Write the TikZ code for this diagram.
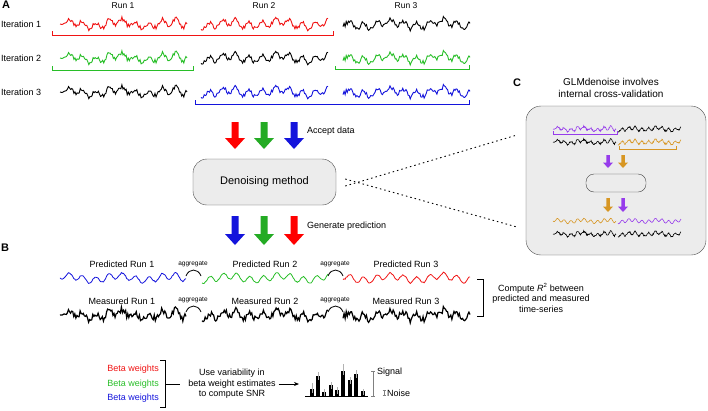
\documentclass[tikz,border=0pt]{standalone}
\usepackage{fontspec}
\setmainfont{Liberation Sans}
\usepackage{tikz}
\usetikzlibrary{arrows.meta}

\definecolor{runred}{RGB}{240,20,20}
\definecolor{rungreen}{RGB}{40,190,40}
\definecolor{runblue}{RGB}{20,20,220}
\definecolor{cvpurple}{RGB}{150,60,235}
\definecolor{cvorange}{RGB}{215,150,35}
\definecolor{boxgrey}{RGB}{236,236,236}

\newcommand{\noisetrace}[7]{%
  \pgfmathsetseed{#5}
  \draw[#4] plot[domain=0:#3, samples=120, variable=\t]
    ({#1+#6*\t},{#2+#6*(3.2*sin(\t*27+#5*35)+2.2*sin(\t*7+#5*20)+#7*rand)});
}
\newcommand{\fatarrow}[5]{%
  \fill[#4] ({#1-3.5*#5},#2) -- ({#1+3.5*#5},#2) -- ({#1+3.5*#5},{#3-11*#5})
    -- ({#1+10*#5},{#3-11*#5}) -- (#1,#3) -- ({#1-10*#5},{#3-11*#5})
    -- ({#1-3.5*#5},{#3-11*#5}) -- cycle;
}

\tikzset{
  lab/.style={inner sep=1pt, font=\fontsize{8.5}{10}\selectfont},
  small/.style={inner sep=1pt, font=\fontsize{6.5}{8}\selectfont},
  panel/.style={inner sep=0pt, font=\fontsize{11}{13}\selectfont\bfseries},
  procbox/.style={draw=gray!60!black, fill=boxgrey, rounded corners=14pt, inner sep=0pt},
  topline/.style={line width=0.9pt},
  predline/.style={line width=0.8pt},
  measline/.style={line width=1.2pt, black},
  bracket/.style={line width=0.8pt}
}

\begin{document}
\begin{tikzpicture}[x=1pt, y=-1pt]
  \useasboundingbox (0,0) rectangle (708,410);

  % panel A
  \node[panel] (pa) at (6,5) {A};
  \node[lab] (run1) at (123,6) {Run 1};
  \node[lab] (run2) at (264,6) {Run 2};
  \node[lab] (run3) at (406,6) {Run 3};
  \node[lab, right, font=\fontsize{9}{10}\selectfont] (it1) at (0,24) {Iteration 1};
  \node[lab, right, font=\fontsize{9}{10}\selectfont] (it2) at (0,58) {Iteration 2};
  \node[lab, right, font=\fontsize{9}{10}\selectfont] (it3) at (0,92) {Iteration 3};

  \noisetrace{60}{24}{127}{topline, runred}{11}{1}{2.2}
  \noisetrace{201}{24}{127}{topline, runred}{22}{1}{2.2}
  \noisetrace{343}{24}{127}{topline, black}{33}{1}{2.2}
  \noisetrace{60}{58}{127}{topline, rungreen}{11}{1}{2.2}
  \noisetrace{201}{58}{127}{topline, black}{22}{1}{2.2}
  \noisetrace{343}{58}{127}{topline, rungreen}{33}{1}{2.2}
  \noisetrace{60}{92}{127}{topline, black}{11}{1}{2.2}
  \noisetrace{201}{92}{127}{topline, runblue}{22}{1}{2.2}
  \noisetrace{343}{92}{127}{topline, runblue}{33}{1}{2.2}

  \draw[bracket, runred] (52,31) -- (52,35) -- (333,35) -- (333,31);
  \draw[bracket, rungreen] (52,66) -- (52,70) -- (193,70) -- (193,66);
  \draw[bracket, rungreen] (335,66) -- (335,69) -- (469,69) -- (469,65);
  \draw[bracket, runblue] (195,100) -- (195,104) -- (469,104) -- (469,100);

  \fatarrow{235}{122}{149}{red}{1}
  \fatarrow{264}{122}{149}{rungreen!90!black}{1}
  \fatarrow{294}{122}{149}{runblue}{1}
  \node[lab, right, font=\fontsize{9}{10}\selectfont] (accept) at (306,131) {Accept data};

  \node[procbox, minimum width=143pt, minimum height=46pt, font=\fontsize{11}{13}\selectfont] (den) at (264.5,182) {Denoising method};

  \fatarrow{235}{216}{245}{runblue}{1}
  \fatarrow{264}{216}{245}{rungreen!90!black}{1}
  \fatarrow{294}{216}{245}{red}{1}
  \node[lab, right, font=\fontsize{9}{10}\selectfont] (gen) at (306,226) {Generate prediction};

  \coordinate (zoomtop) at (517,135);
  \coordinate (zoombot) at (517,227);
  \draw[line width=0.9pt, dash pattern=on 1.5pt off 3pt] ([xshift=9pt, yshift=-4pt]den.east) -- (zoomtop);
  \draw[line width=0.9pt, dash pattern=on 1.5pt off 3pt] ([xshift=9pt, yshift=3pt]den.east) -- (zoombot);

  % panel C
  \node[panel] (pc) at (517,83) {C};
  \node[lab, align=center, font=\fontsize{10}{11.5}\selectfont] (ctitle) at (611,88) {GLMdenoise involves\\internal cross-validation};
  \draw[draw=gray!60!black, fill=boxgrey, rounded corners=15pt] (526,106) rectangle (706,255);
  \noisetrace{553}{129}{126}{line width=0.6pt, cvpurple}{11}{0.5}{2}
  \noisetrace{618}{129}{126}{line width=0.6pt, black}{22}{0.5}{2}
  \noisetrace{553}{142}{126}{line width=0.6pt, black}{11}{0.5}{2}
  \noisetrace{618}{142}{126}{line width=0.6pt, cvorange}{22}{0.5}{2}
  \draw[line width=0.6pt, cvpurple] (553,131) -- (553,134) -- (617,134) -- (617,131);
  \draw[line width=0.6pt, cvorange] (619,146) -- (619,149) -- (676,149) -- (676,146);
  \fatarrow{608}{155}{168}{cvpurple}{0.5}
  \fatarrow{623}{155}{168}{cvorange}{0.5}
  \node[procbox, draw=gray!50!black, rounded corners=8pt, minimum width=60pt, minimum height=18pt] (cvden) at (616,183) {};
  \fatarrow{608}{198}{212}{cvorange}{0.5}
  \fatarrow{623}{198}{212}{cvpurple}{0.5}
  \noisetrace{553}{221}{126}{line width=0.6pt, cvorange}{11}{0.5}{0.5}
  \noisetrace{618}{221}{126}{line width=0.6pt, cvpurple}{22}{0.5}{0.5}
  \noisetrace{553}{234}{126}{line width=0.6pt, black}{11}{0.5}{2}
  \noisetrace{618}{234}{126}{line width=0.6pt, black}{22}{0.5}{2}

  % panel B
  \node[panel] (pb) at (5,248) {B};
  \node[lab, font=\fontsize{9}{10}\selectfont] (pred1) at (122,264) {Predicted Run 1};
  \node[lab, font=\fontsize{9}{10}\selectfont] (pred2) at (265,264) {Predicted Run 2};
  \node[lab, font=\fontsize{9}{10}\selectfont] (pred3) at (406,264) {Predicted Run 3};
  \node[small] (agg1) at (193,264) {aggregate};
  \node[small] (agg2) at (335,264) {aggregate};
  \noisetrace{60}{278}{126}{predline, runblue}{11}{1}{0.6}
  \noisetrace{202}{278}{126}{predline, rungreen}{22}{1}{0.6}
  \noisetrace{343}{278}{127}{predline, runred}{33}{1}{0.6}
  \draw[line width=0.8pt] (186,276) .. controls (189,268) and (198,268) .. (201,276);
  \draw[line width=0.8pt] (328,276) .. controls (331,268) and (340,268) .. (343,276);

  \node[lab, font=\fontsize{9}{10}\selectfont] (meas1) at (122,301) {Measured Run 1};
  \node[lab, font=\fontsize{9}{10}\selectfont] (meas2) at (265,301) {Measured Run 2};
  \node[lab, font=\fontsize{9}{10}\selectfont] (meas3) at (406,301) {Measured Run 3};
  \node[small] (agg3) at (193,300) {aggregate};
  \node[small] (agg4) at (335,300) {aggregate};
  \noisetrace{60}{315}{126}{measline}{11}{1}{3.2}
  \noisetrace{202}{315}{126}{measline}{22}{1}{3.2}
  \noisetrace{343}{315}{127}{measline}{33}{1}{3.2}
  \draw[line width=0.8pt] (186,312) .. controls (189,304) and (198,304) .. (201,312);
  \draw[line width=0.8pt] (328,312) .. controls (331,304) and (340,304) .. (343,312);

  \draw[bracket] (477,279) -- (483,279) -- (483,316) -- (477,316);
  \node[lab, align=center, font=\fontsize{9}{10.5}\selectfont] (rsq) at (541,298) {Compute {\itshape R}\textsuperscript{2} between\\predicted and measured\\time-series};

  \node[lab, left, runred, font=\fontsize{9}{10}\selectfont] (bw1) at (160,369) {Beta weights};
  \node[lab, left, rungreen, font=\fontsize{9}{10}\selectfont] (bw2) at (160,384) {Beta weights};
  \node[lab, left, runblue, font=\fontsize{9}{10}\selectfont] (bw3) at (160,398) {Beta weights};
  \draw[bracket] (160,360) -- (165,360) -- (165,407) -- (160,407);
  \draw[bracket] (165,384) -- (180,384);
  \node[lab, align=center, font=\fontsize{9}{10.5}\selectfont] (snr) at (232,384) {Use variability in\\beta weight estimates\\to compute SNR};
  \coordinate (chart) at (299,384);
  \draw[line width=0.8pt, -{Stealth[length=5pt, width=4pt]}, shorten <=2pt] (snr) -- (chart);

  \foreach \bx/\bt/\be in {312/389/383, 318/376/372, 324/392/389, 331/385/382, 337/390/387, 343/371/364, 350/380/377, 356/374/370, 363/391/389}{
    \fill (\bx-2.4,396) rectangle (\bx+2.4,\bt);
    \draw[gray!60, line width=0.9pt] (\bx,\be) -- (\bx,\bt+4);
  }
  \draw[line width=0.7pt] (305,396) -- (368,396);
  \draw[gray, line width=0.8pt] (371,371) -- (375,371) (373,371) -- (373,396) (371,396) -- (375,396);
  \draw[gray, line width=0.6pt] (382.5,390) -- (385.5,390) (384,390) -- (384,395) (382.5,395) -- (385.5,395);
  \node[lab, right, font=\fontsize{9}{10}\selectfont] (sig) at (376,372) {Signal};
  \node[lab, right, font=\fontsize{9}{10}\selectfont] (noise) at (386,393) {Noise};
\end{tikzpicture}
\end{document}
